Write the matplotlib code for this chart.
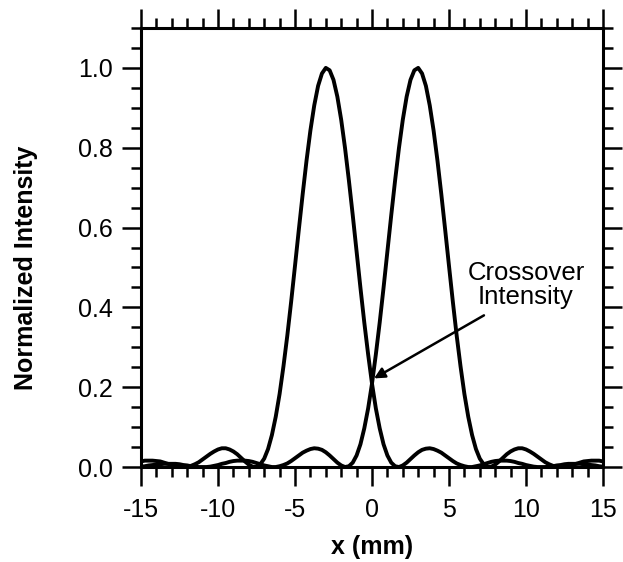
import numpy as np
import matplotlib
matplotlib.use("Agg")
import matplotlib.pyplot as plt
from matplotlib.ticker import MultipleLocator

plt.rcParams['font.family'] = ['Liberation Sans', 'DejaVu Sans']
plt.rcParams['axes.unicode_minus'] = False

# sample positions (mm)
x_mm = np.linspace(-15, 15, 121)

# beam centred near -3 mm
left_beam = [0.014, 0.016, 0.016, 0.016, 0.015, 0.014, 0.011, 0.008, 0.005, 0.003,
             0.001, 0.000, 0.001, 0.003, 0.007, 0.012, 0.019, 0.026, 0.033, 0.039,
             0.044, 0.047, 0.047, 0.044, 0.039, 0.032, 0.023, 0.014, 0.006, 0.001,
             0.000, 0.007, 0.021, 0.045, 0.080, 0.126, 0.183, 0.252, 0.329, 0.414,
             0.504, 0.595, 0.684, 0.768, 0.843, 0.906, 0.955, 0.986, 1.000, 0.994,
             0.970, 0.928, 0.870, 0.799, 0.718, 0.631, 0.540, 0.449, 0.362, 0.282,
             0.209, 0.147, 0.097, 0.057, 0.029, 0.011, 0.002, 0.000, 0.004, 0.011,
             0.020, 0.029, 0.037, 0.043, 0.046, 0.047, 0.045, 0.041, 0.036, 0.029,
             0.022, 0.015, 0.009, 0.005, 0.002, 0.000, 0.000, 0.002, 0.004, 0.007,
             0.010, 0.013, 0.015, 0.016, 0.016, 0.016, 0.015, 0.013, 0.010, 0.008,
             0.005, 0.003, 0.001, 0.000, 0.000, 0.000, 0.001, 0.002, 0.004, 0.005,
             0.007, 0.008, 0.008, 0.008, 0.008, 0.007, 0.006, 0.005, 0.004, 0.002,
             0.001]

# beam centred near +3 mm
right_beam = [0.001,
              0.002, 0.004, 0.005, 0.006, 0.007, 0.008, 0.008, 0.008, 0.008, 0.007,
              0.005, 0.004, 0.002, 0.001, 0.000, 0.000, 0.000, 0.001, 0.003, 0.005,
              0.008, 0.010, 0.013, 0.015, 0.016, 0.016, 0.016, 0.015, 0.013, 0.010,
              0.007, 0.004, 0.002, 0.000, 0.000, 0.002, 0.005, 0.009, 0.015, 0.022,
              0.029, 0.036, 0.041, 0.045, 0.047, 0.046, 0.043, 0.037, 0.029, 0.020,
              0.011, 0.004, 0.000, 0.002, 0.011, 0.029, 0.057, 0.097, 0.147, 0.209,
              0.282, 0.362, 0.449, 0.540, 0.631, 0.718, 0.799, 0.870, 0.928, 0.970,
              0.994, 1.000, 0.986, 0.955, 0.906, 0.843, 0.768, 0.684, 0.595, 0.504,
              0.414, 0.329, 0.252, 0.183, 0.126, 0.080, 0.045, 0.021, 0.007, 0.000,
              0.001, 0.006, 0.014, 0.023, 0.032, 0.039, 0.044, 0.047, 0.047, 0.044,
              0.039, 0.033, 0.026, 0.019, 0.012, 0.007, 0.003, 0.001, 0.000, 0.001,
              0.003, 0.005, 0.008, 0.011, 0.014, 0.015, 0.016, 0.016, 0.016, 0.014]

crossover = (0.13, 0.222)
arrow_start = (7.27, 0.38)
label_pos = (10.0, 0.456)

fig = plt.figure(figsize=(6.23, 5.62), dpi=100)
ax = fig.add_axes([0.2263, 0.169, 0.7416, 0.7812])

ax.plot(x_mm, left_beam, color='black', lw=2.8, solid_joinstyle='round')
ax.plot(x_mm, right_beam, color='black', lw=2.8, solid_joinstyle='round')

ax.set_xlim(-15, 15)
ax.set_ylim(0, 1.1)
ax.xaxis.set_major_locator(MultipleLocator(5))
ax.xaxis.set_minor_locator(MultipleLocator(1))
ax.yaxis.set_major_locator(MultipleLocator(0.2))
ax.yaxis.set_minor_locator(MultipleLocator(0.05))
ax.yaxis.set_major_formatter(plt.FormatStrFormatter('%.1f'))

for s in ax.spines.values():
    s.set_linewidth(2.2)
ax.tick_params(which='both', direction='out', top=True, right=True, width=1.8)
ax.tick_params(which='major', length=13.5, labelsize=18)
ax.tick_params(which='minor', length=7)
ax.tick_params(axis='x', which='major', pad=9)
ax.tick_params(axis='y', which='major', pad=7)

ax.set_xlabel('x (mm)', fontsize=18, fontweight='bold', labelpad=9)
ax.set_ylabel('Normalized Intensity', fontsize=18, fontweight='bold')
ax.yaxis.set_label_coords(-0.222, 0.453)

ax.text(label_pos[0], label_pos[1], 'Crossover\nIntensity', ha='center', va='center',
        fontsize=18.5, linespacing=1.0)
ax.annotate('', xy=crossover, xytext=arrow_start,
            arrowprops=dict(arrowstyle='-|>', color='black', lw=1.8,
                            mutation_scale=16, shrinkA=0, shrinkB=0))

fig.savefig('out.png', dpi=100)
